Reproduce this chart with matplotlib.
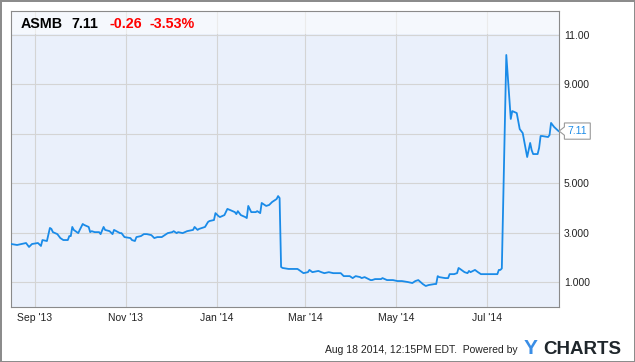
import matplotlib
matplotlib.use("Agg")
import matplotlib.pyplot as plt
import numpy as np
from matplotlib.path import Path

plt.rcParams['font.family'] = ['Liberation Sans', 'DejaVu Sans']

# ASMB daily close, Aug 2013 - Aug 2014
dates = [
    "2013-08-16", "2013-08-20", "2013-08-23", "2013-08-26", "2013-08-28", "2013-08-30",
    "2013-09-03", "2013-09-05", "2013-09-06", "2013-09-09", "2013-09-11", "2013-09-12",
    "2013-09-13", "2013-09-16", "2013-09-18", "2013-09-20", "2013-09-23", "2013-09-24",
    "2013-09-25", "2013-09-26", "2013-09-27", "2013-09-30", "2013-10-01", "2013-10-03",
    "2013-10-04", "2013-10-07", "2013-10-08", "2013-10-09", "2013-10-11", "2013-10-14",
    "2013-10-15", "2013-10-17", "2013-10-18", "2013-10-21", "2013-10-23", "2013-10-24",
    "2013-10-28", "2013-10-29", "2013-10-31", "2013-11-04", "2013-11-05", "2013-11-07",
    "2013-11-08", "2013-11-11", "2013-11-13", "2013-11-15", "2013-11-18", "2013-11-20",
    "2013-11-22", "2013-11-25", "2013-11-27", "2013-11-29", "2013-12-02", "2013-12-03",
    "2013-12-05", "2013-12-06", "2013-12-09", "2013-12-12", "2013-12-16", "2013-12-17",
    "2013-12-19", "2013-12-20", "2013-12-24", "2013-12-26", "2013-12-27", "2013-12-30",
    "2013-12-31", "2014-01-02", "2014-01-03", "2014-01-06", "2014-01-08", "2014-01-10",
    "2014-01-13", "2014-01-14", "2014-01-15", "2014-01-17", "2014-01-20", "2014-01-21",
    "2014-01-22", "2014-01-24", "2014-01-27", "2014-01-28", "2014-01-30", "2014-01-31",
    "2014-02-03", "2014-02-05", "2014-02-07", "2014-02-10", "2014-02-11", "2014-02-12",
    "2014-02-13", "2014-02-14", "2014-02-18", "2014-02-20", "2014-02-24", "2014-02-25",
    "2014-02-27", "2014-02-28", "2014-03-03", "2014-03-04", "2014-03-06", "2014-03-10",
    "2014-03-12", "2014-03-14", "2014-03-17", "2014-03-20", "2014-03-24", "2014-03-25",
    "2014-03-27", "2014-03-31", "2014-04-02", "2014-04-04", "2014-04-07", "2014-04-08",
    "2014-04-10", "2014-04-14", "2014-04-15", "2014-04-17", "2014-04-21", "2014-04-22",
    "2014-04-25", "2014-04-29", "2014-05-02", "2014-05-05", "2014-05-09", "2014-05-12",
    "2014-05-14", "2014-05-16", "2014-05-19", "2014-05-21", "2014-05-23", "2014-05-27",
    "2014-05-28", "2014-05-29", "2014-05-30", "2014-06-03", "2014-06-05", "2014-06-06",
    "2014-06-09", "2014-06-11", "2014-06-12", "2014-06-13", "2014-06-16", "2014-06-18",
    "2014-06-19", "2014-06-20", "2014-06-23", "2014-06-25", "2014-06-27", "2014-06-30",
    "2014-07-03", "2014-07-07", "2014-07-08", "2014-07-09", "2014-07-10", "2014-07-11",
    "2014-07-14", "2014-07-17", "2014-07-18", "2014-07-21", "2014-07-23", "2014-07-25",
    "2014-07-28", "2014-07-30", "2014-07-31", "2014-08-01", "2014-08-04", "2014-08-05",
    "2014-08-06", "2014-08-07", "2014-08-11", "2014-08-12", "2014-08-13", "2014-08-15",
    "2014-08-18",
]
prices = [
    2.54, 2.50, 2.54, 2.58, 2.42, 2.54,
    2.58, 2.46, 2.70, 2.66, 3.19, 3.15,
    3.02, 2.94, 2.78, 2.70, 2.70, 2.86,
    2.86, 3.23, 3.11, 2.98, 3.11, 3.35,
    3.31, 3.23, 3.02, 3.06, 3.02, 3.02,
    2.94, 3.23, 3.11, 3.06, 2.94, 3.11,
    2.98, 2.98, 2.82, 2.78, 2.70, 2.66,
    2.82, 2.86, 2.94, 2.94, 2.90, 2.78,
    2.82, 2.82, 2.90, 2.98, 3.02, 3.06,
    2.98, 3.02, 2.98, 3.06, 3.11, 3.23,
    3.11, 3.15, 3.23, 3.43, 3.47, 3.51,
    3.79, 3.67, 3.63, 3.71, 3.96, 3.91,
    3.83, 3.75, 3.87, 3.71, 3.63, 3.59,
    4.08, 3.83, 3.83, 3.87, 3.79, 4.20,
    4.08, 4.12, 4.24, 4.36, 4.48, 4.40,
    1.61, 1.57, 1.53, 1.53, 1.53, 1.49,
    1.40, 1.36, 1.40, 1.49, 1.40, 1.45,
    1.40, 1.36, 1.40, 1.36, 1.36, 1.36,
    1.24, 1.24, 1.16, 1.24, 1.20, 1.16,
    1.20, 1.08, 1.08, 1.12, 1.12, 1.16,
    1.08, 1.08, 1.04, 1.04, 1.00, 0.96,
    1.04, 1.08, 0.92, 0.84, 0.88, 0.92,
    0.92, 1.24, 1.20, 1.16, 1.16, 1.32,
    1.32, 1.36, 1.57, 1.53, 1.40, 1.36,
    1.45, 1.40, 1.49, 1.40, 1.32, 1.32,
    1.32, 1.32, 1.32, 1.49, 1.49, 1.55,
    10.19, 7.60, 7.92, 7.84, 7.19, 7.03,
    6.06, 6.63, 6.34, 6.18, 6.18, 6.43,
    6.91, 6.91, 6.87, 6.95, 7.44, 7.28,
    7.11,
]

ticker = "ASMB"
last_price = "7.11"
change = "-0.26"
change_pct = "-3.53%"

x_ticks = ["2013-09-01", "2013-11-01", "2014-01-01", "2014-03-01", "2014-05-01", "2014-07-01"]
x_labels = ["Sep '13", "Nov '13", "Jan '14", "Mar '14", "May '14", "Jul '14"]
y_ticks = [1, 3, 5, 7, 9, 11]
# the 7 label sits under the last-price tag, so it is not shown
y_labels = ["1.000", "3.000", "5.000", "", "9.000", "11.00"]

LINE = "#1a8be8"
W, H = 635, 362


def px_rect(x0, y0, x1, y1):
    return [x0 / W, 1 - y1 / H, (x1 - x0) / W, (y1 - y0) / H]


def tag_box(x0, y0, width, height, mutation_size):
    # square box with a small notch pointing left
    pad = 0.3 * mutation_size
    x0, y0 = x0 - pad, y0 - pad
    w, h = width + 2 * pad, height + 2 * pad
    n = 0.5 * mutation_size
    ym = y0 + h / 2
    verts = [(x0, y0), (x0 + w, y0), (x0 + w, y0 + h), (x0, y0 + h),
             (x0, ym + 0.8 * n), (x0 - n, ym), (x0, ym - 0.8 * n), (x0, y0)]
    return Path(verts, closed=True)


fig = plt.figure(figsize=(W / 100, H / 100), dpi=100)
fig.patch.set_facecolor("white")
fig.patch.set_edgecolor("#8c8c8c")
fig.patch.set_linewidth(2)

ax = fig.add_axes(px_rect(11, 11, 559, 307))
ax.set_facecolor("#eaf0fb")
ax.set_axisbelow(True)

d = np.array(dates, dtype="datetime64[D]")
ax.plot(d, prices, color=LINE, lw=1.3, zorder=3, solid_joinstyle="round")

ax.set_xlim(np.datetime64("2013-08-15T22:00"), np.datetime64("2014-08-18T08:00"))
ax.set_ylim(-0.01, 11.97)

ax.set_xticks(np.array(x_ticks, dtype="datetime64[D]"))
ax.set_xticklabels(x_labels)
ax.yaxis.tick_right()
ax.set_yticks(y_ticks)
ax.set_yticklabels(y_labels)
ax.tick_params(axis="both", length=0, labelsize=7.5, labelcolor="#222222")
ax.tick_params(axis="x", pad=4.5)
ax.tick_params(axis="y", pad=3.6)
ax.grid(True, color="#d4d4d4", lw=0.8)
for s in ax.spines.values():
    s.set_color("#8a8a8a")
    s.set_linewidth(0.8)

# lighter header band over the top of the plot
ax.axhspan(11.03, 12.5, facecolor="white", alpha=0.55, lw=0, zorder=1)

ax.annotate(last_price, xy=(d[-1], prices[-1]), xytext=(6.5, 0),
            textcoords="offset points", ha="left", va="center",
            fontsize=7.5, color=LINE, annotation_clip=False, zorder=6,
            bbox=dict(boxstyle=tag_box, fc="white", ec="#9a9a9a", lw=0.8))


def ftext(x, y, s, **kw):
    return fig.text(x / W, 1 - y / H, s, va="baseline", **kw)


ftext(21, 28.5, ticker, fontsize=10.3, weight="bold", color="black")
ftext(71, 28.5, last_price, fontsize=10.3, weight="bold", color="black")
ftext(109, 28.5, change, fontsize=10.3, weight="bold", color="#ff0000")
ftext(150, 28.5, change_pct, fontsize=10.3, weight="bold", color="#ff0000")

ftext(518, 353, "Aug 18 2014, 12:15PM EDT.  Powered by", fontsize=7.5,
      color="#222222", ha="right")
ftext(524, 354.5, "Y", fontsize=15, weight="bold", color="#3a8ee6")
ftext(543, 354.5, "CHARTS", fontsize=13.5, weight="bold", color="#1f262b")

fig.savefig("out.png", dpi=100)
